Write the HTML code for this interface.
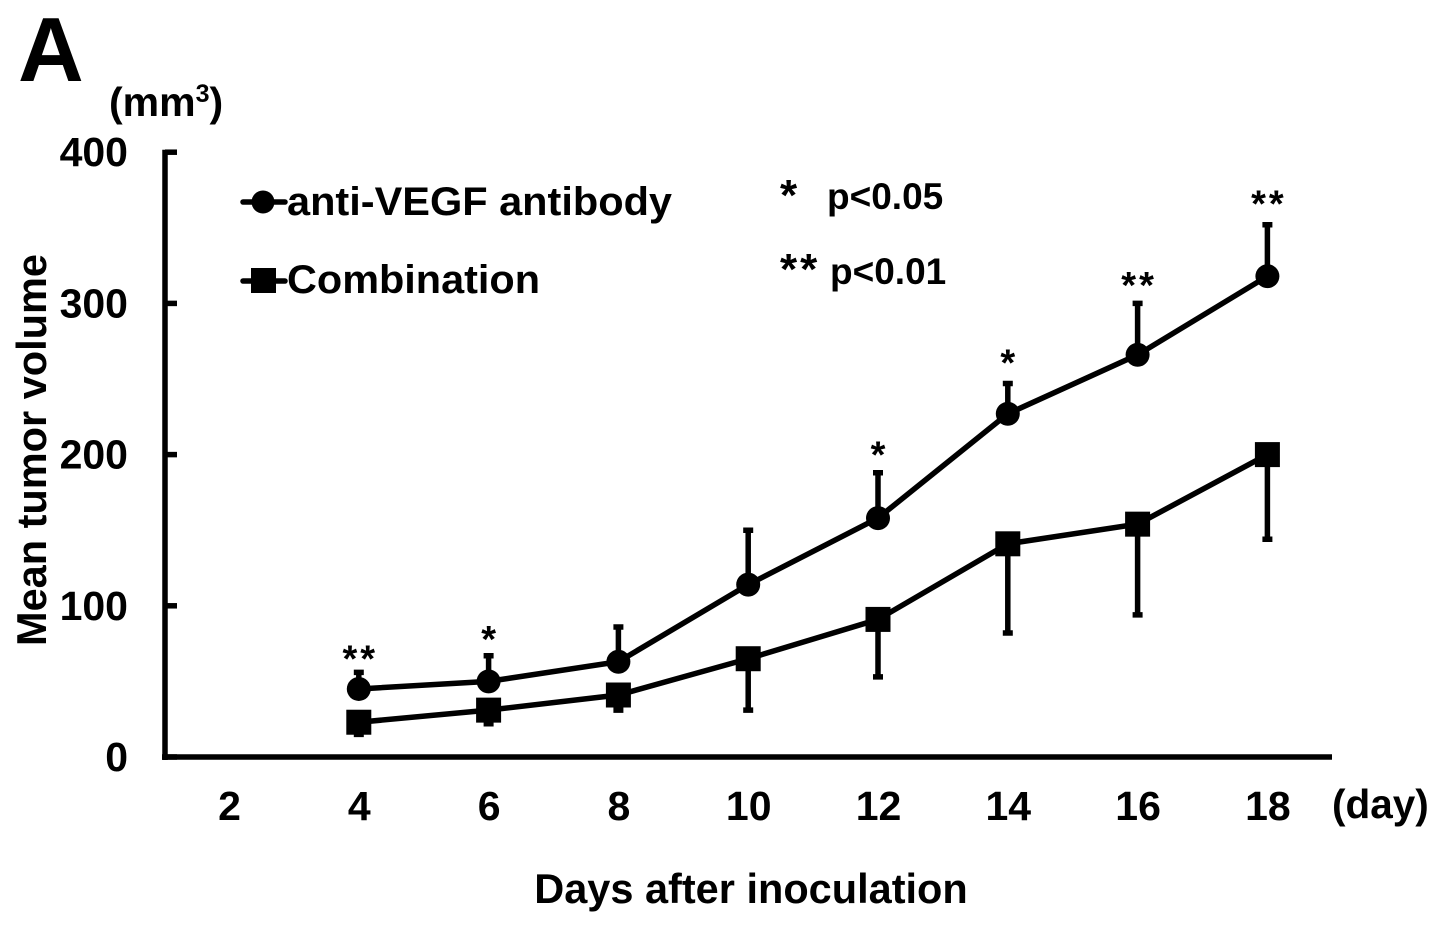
<!DOCTYPE html>
<html>
<head>
<meta charset="utf-8">
<style>
html,body{margin:0;padding:0;background:#fff;width:1441px;height:925px;overflow:hidden}
svg{display:block}
text{font-family:"Liberation Sans",sans-serif;font-weight:bold;fill:#000}
</style>
</head>
<body>
<svg id="chart" width="1441" height="925" viewBox="0 0 1441 925" xmlns="http://www.w3.org/2000/svg">
<text x="18" y="81" font-size="91">A</text>
<text x="109" y="116" font-size="41">(mm<tspan font-size="25" dy="-14">3</tspan><tspan dy="14">)</tspan></text>
<text transform="translate(46,450) rotate(-90)" text-anchor="middle" font-size="41.5">Mean tumor volume</text>
<text x="751" y="903" text-anchor="middle" font-size="41.5">Days after inoculation</text>
<text x="1332" y="818" font-size="40.5">(day)</text>
<g id="axes"></g>
<g id="series"></g>
<g>
<line x1="243" y1="202" x2="285" y2="202" stroke="#000" stroke-width="5.5" stroke-linecap="round"/>
<circle cx="263" cy="202" r="11.5" fill="#000"/>
<text x="287" y="215" font-size="40" textLength="385" lengthAdjust="spacingAndGlyphs">anti-VEGF antibody</text>
<line x1="243" y1="281" x2="285" y2="281" stroke="#000" stroke-width="5.5" stroke-linecap="round"/>
<rect x="251" y="268" width="25" height="25" fill="#000"/>
<text x="287" y="293" font-size="40" textLength="253" lengthAdjust="spacingAndGlyphs">Combination</text>
</g>
<g>
<text x="780" y="210" font-size="44">*</text>
<text x="827" y="209" font-size="37">p&lt;0.05</text>
<text x="780" y="284" font-size="44" letter-spacing="3">**</text>
<text x="830" y="284" font-size="37">p&lt;0.01</text>
</g>
</svg>
<script>
const days = [4, 6, 8, 10, 12, 14, 16, 18];
const xTicks = [2, 4, 6, 8, 10, 12, 14, 16, 18];
const yTicks = [0, 100, 200, 300, 400];
const antiVegf = [45, 50, 63, 114, 158, 227, 266, 318];
const antiVegfErrorTop = [56, 67, 86, 150, 188, 247, 300, 352];
const combination = [23, 31, 41, 65, 91, 141, 154, 200];
const combinationErrorBottom = [15, 22, 31, 31, 53, 82, 94, 144];
const starLabels = ['**', '*', '', '', '*', '*', '**', '**'];
const starLevels = [69, 82, 0, 0, 204, 265, 316, 370];

const svgNS = 'http://www.w3.org/2000/svg';
const axes = document.getElementById('axes');
const series = document.getElementById('series');
const xPos = d => 229 + (d - 2) * 64.9;
const yPos = v => 757 - v * 1.512;

function mk(parent, tag, attrs) {
  const e = document.createElementNS(svgNS, tag);
  for (const k in attrs) e.setAttribute(k, attrs[k]);
  parent.appendChild(e);
  return e;
}

const yAxis = mk(axes, 'line', {x1: 165, y1: yPos(400) - 2.5, x2: 165, y2: 760, stroke: '#000', 'stroke-width': 5.5});


const xAxis = mk(axes, 'line', {x1: 162, y1: 757, x2: 1332, y2: 757, stroke: '#000', 'stroke-width': 5.5});



yTicks.forEach(v => {
  const t = mk(axes, 'line', {x1: 165, y1: yPos(v), x2: 177, y2: yPos(v), stroke: '#000', 'stroke-width': 5.5});
  
  
  const l = mk(axes, 'text', {x: 128, y: yPos(v) + 14, 'text-anchor': 'end', 'font-size': 41});
  l.textContent = v;
  
  
});
xTicks.forEach(d => {
  const l = mk(axes, 'text', {x: xPos(d) + 0.5, y: 820, 'text-anchor': 'middle', 'font-size': 41});
  l.textContent = d;
  
  
});

days.forEach((d, i) => {
  const x = xPos(d);
  const e1 = mk(series, 'path', {d: `M${x} ${yPos(antiVegf[i])}V${yPos(antiVegfErrorTop[i])}M${x - 5} ${yPos(antiVegfErrorTop[i])}H${x + 5}`, stroke: '#000', 'stroke-width': 5.5, fill: 'none'});
  
  
  const e2 = mk(series, 'path', {d: `M${x} ${yPos(combination[i])}V${yPos(combinationErrorBottom[i])}M${x - 5} ${yPos(combinationErrorBottom[i])}H${x + 5}`, stroke: '#000', 'stroke-width': 5.5, fill: 'none'});
  
  
});

const line1 = mk(series, 'polyline', {points: days.map((d, i) => xPos(d) + ',' + yPos(antiVegf[i])).join(' '), fill: 'none', stroke: '#000', 'stroke-width': 5.5});


const line2 = mk(series, 'polyline', {points: days.map((d, i) => xPos(d) + ',' + yPos(combination[i])).join(' '), fill: 'none', stroke: '#000', 'stroke-width': 5.5});



days.forEach((d, i) => {
  const x = xPos(d);
  const c = mk(series, 'circle', {cx: x, cy: yPos(antiVegf[i]), r: 12, fill: '#000'});
  
  
  const r = mk(series, 'rect', {x: x - 12.5, y: yPos(combination[i]) - 12.5, width: 25, height: 25, fill: '#000'});
  
  
  if (starLabels[i]) {
    const s = mk(series, 'text', {x: x + 1.5, y: yPos(starLevels[i]) + 19, 'text-anchor': 'middle', 'font-size': 38, 'letter-spacing': 3});
    s.textContent = starLabels[i];
    
    
  }
});
</script>
</body>
</html>
